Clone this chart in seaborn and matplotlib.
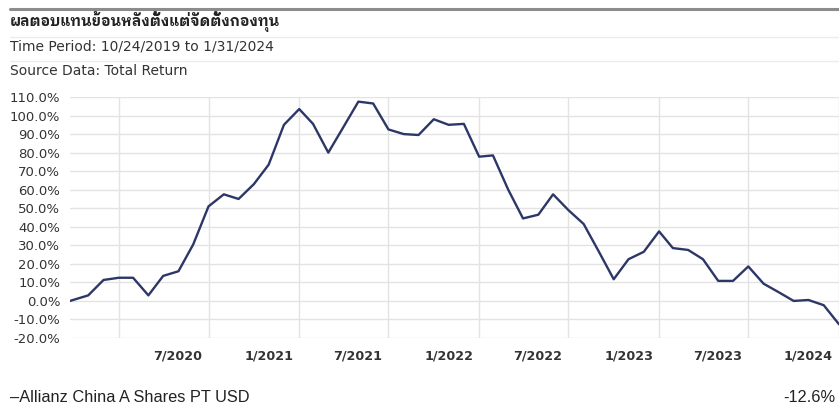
import matplotlib
matplotlib.use('Agg')
import matplotlib.pyplot as plt
import matplotlib.transforms as mtransforms
import pandas as pd
import seaborn as sns
import logging

logging.getLogger('matplotlib.font_manager').setLevel(logging.ERROR)

title = 'ผลตอบแทนย้อนหลังตั้งแต่จัดตั้งกองทุน'
period_text = 'Time Period: 10/24/2019 to 1/31/2024'
source_text = 'Source Data: Total Return'
series_name = 'Allianz China A Shares PT USD'
last_value_text = '-12.6%'

# first point is the inception date, then month ends
start_date = '2019-10-24'
end_date = '2024-01-31'
month_ends = pd.date_range('2019-11-30', '2024-01-31', freq='ME')
returns = [0.0,
           3.0, 11.3, 12.5, 12.5, 3.0, 13.5, 16.0, 30.5, 51.0, 57.5, 55.0,
           63.0, 73.5, 95.0, 103.5, 95.5, 80.0, 93.5, 107.5, 106.5, 92.5,
           90.0, 89.5, 98.0, 95.0, 95.5, 77.8, 78.5, 60.0, 44.5, 46.5,
           57.5, 49.0, 41.5, 27.0, 11.7, 22.5, 26.5, 37.5, 28.5, 27.5,
           22.5, 10.8, 10.8, 18.6, 9.3, 4.8, 0.0, 0.5, -2.3, -12.6]

grid_dates = pd.date_range('2020-01-31', '2024-01-31', freq='6ME')
grid_labels = ['', '7/2020', '1/2021', '7/2021', '1/2022', '7/2022',
               '1/2023', '7/2023', '1/2024']
y_ticks = list(range(-20, 111, 10))

df = pd.DataFrame({
    'date': [pd.Timestamp(start_date)] + list(month_ends),
    'value': returns,
})

sns.set_style('white')
plt.rcParams['font.family'] = ['DejaVu Sans']

line_color = '#2c3768'
grid_color = '#e3e3e3'
text_color = '#333333'

fig = plt.figure(figsize=(8.39, 4.07), dpi=100)
ax = fig.add_axes([70 / 839, 1 - 338 / 407, 769 / 839, 241 / 407])

sns.lineplot(data=df, x='date', y='value', ax=ax, color=line_color,
             linewidth=1.7, legend=False)

ax.set_xlim(pd.Timestamp(start_date), pd.Timestamp(end_date))
ax.set_ylim(-20, 110)
ax.set_yticks(y_ticks)
ax.set_yticklabels([f'{v:.1f}%' for v in y_ticks])
ax.set_xticks(grid_dates)
ax.set_xticklabels(grid_labels, ha='right')
ax.grid(True, color=grid_color, linewidth=1)
ax.set_axisbelow(True)
for s in ax.spines.values():
    s.set_visible(False)
ax.tick_params(axis='x', length=5, color=grid_color, pad=3,
               labelsize=9.2, labelcolor=text_color)
ax.tick_params(axis='y', length=0, pad=7, labelsize=9.5, labelcolor=text_color)
shift = mtransforms.ScaledTranslation(-6 / 100, 0, fig.dpi_scale_trans)
for lbl in ax.get_xticklabels():
    lbl.set_fontweight('bold')
    lbl.set_transform(lbl.get_transform() + shift)
ax.set_xlabel('')
ax.set_ylabel('')

# header block
fig.add_artist(plt.Line2D([10 / 839, 1], [1 - 8.5 / 407] * 2, color='#8c8c8c',
                          linewidth=2.2))
for yy in (36.5, 60.5):
    fig.add_artist(plt.Line2D([10 / 839, 1], [1 - yy / 407] * 2,
                              color='#ececec', linewidth=1))
fig.text(10 / 839, 1 - 21 / 407, title, fontsize=10.5, fontweight='bold',
         va='center', color='#222222',
         family=['IBM Plex Sans Thai Looped', 'Noto Sans Thai Looped',
                 'Noto Sans Thai', 'IBM Plex Sans Thai', 'DejaVu Sans'])
fig.text(10 / 839, 1 - 47 / 407, period_text, fontsize=10, va='center',
         color=text_color)
fig.text(10 / 839, 1 - 71 / 407, source_text, fontsize=10, va='center',
         color=text_color)

# legend line at the bottom
legend_font = ['Liberation Sans', 'DejaVu Sans']
fig.text(10 / 839, 1 - 398 / 407, '\u2013' + series_name, fontsize=11.8,
         va='center', color='#222222', family=legend_font)
fig.text(835 / 839, 1 - 398 / 407, last_value_text, fontsize=11.8,
         va='center', ha='right', color='#222222', family=legend_font)

fig.savefig('out.png', dpi=100)
